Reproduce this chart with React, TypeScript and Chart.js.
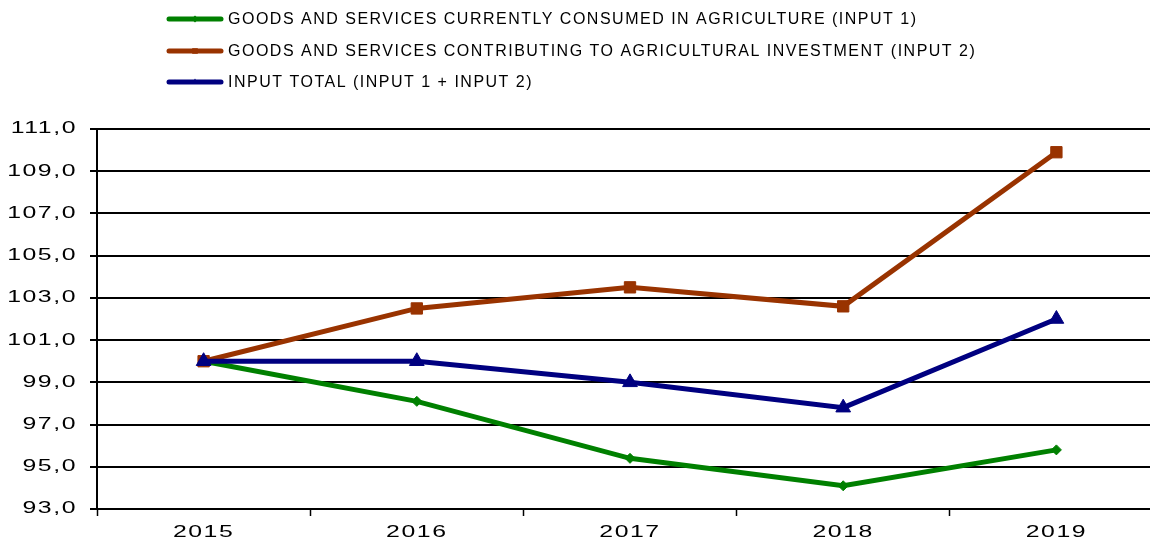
import React, { useEffect, useRef } from "react";
import { Chart, registerables } from "chart.js";

Chart.register(...registerables);

const years = ["2015", "2016", "2017", "2018", "2019"];
const input1 = [100.0, 98.1, 95.4, 94.1, 95.8];
const input2 = [100.0, 102.5, 103.5, 102.6, 109.9];
const inputTotal = [100.0, 100.0, 99.0, 97.8, 102.0];
const seriesLabels = [
  "GOODS AND SERVICES CURRENTLY CONSUMED IN AGRICULTURE (INPUT 1)",
  "GOODS AND SERVICES CONTRIBUTING TO AGRICULTURAL INVESTMENT (INPUT 2)",
  "INPUT TOTAL (INPUT 1 + INPUT 2)",
];
const yMin = 93;
const yMax = 111;
const yStep = 2;

const GREEN = "#008000";
const BROWN = "#993300";
const NAVY = "#000080";
const FONT = "'Liberation Sans', Arial, Helvetica, sans-serif";
const STRETCH = 1.55;

// Draw tick labels at the positions Chart.js computes, but horizontally widened
const stretchPlugin = {
  id: "stretchTicks",
  beforeDraw(chart: any) {
    ["x", "y"].forEach((id) => {
      const scale = chart.scales[id];
      if (!scale || scale._stretched) return;
      scale._stretched = true;
      scale.drawLabels = function (chartArea: any) {
        const ctx: any = this.ctx;
        const items = this.getLabelItems(chartArea);
        for (const item of items) {
          const o = item.options;
          ctx.save();
          ctx.translate(o.translation[0], o.translation[1]);
          ctx.scale(STRETCH, 1);
          ctx.font = item.font.string;
          ctx.fillStyle = o.color;
          ctx.textAlign = o.textAlign;
          ctx.textBaseline = o.textBaseline;
          ctx.letterSpacing = "1px";
          const lines = Array.isArray(item.label) ? item.label : [item.label];
          lines.forEach((l: string, i: number) =>
            ctx.fillText(l, 0, item.textOffset + i * item.font.lineHeight)
          );
          ctx.restore();
        }
      };
    });
  },
};

function drawMarker(ctx: CanvasRenderingContext2D, style: string, x: number, y: number, r: number, color: string) {
  ctx.save();
  ctx.fillStyle = color;
  ctx.beginPath();
  if (style === "rectRot") {
    ctx.moveTo(x, y - r);
    ctx.lineTo(x + r, y);
    ctx.lineTo(x, y + r);
    ctx.lineTo(x - r, y);
  } else if (style === "rect") {
    ctx.rect(x - r * 0.8, y - r * 0.8, r * 1.6, r * 1.6);
  } else {
    ctx.moveTo(x, y - r);
    ctx.lineTo(x + r * 0.9, y + r * 0.5);
    ctx.lineTo(x - r * 0.9, y + r * 0.5);
  }
  ctx.closePath();
  ctx.fill();
  ctx.restore();
}

const legendPlugin = {
  id: "customLegend",
  afterDraw(chart: any) {
    const ctx: CanvasRenderingContext2D = chart.ctx;
    const items = chart.data.datasets;
    ctx.save();
    (ctx as any).letterSpacing = "1.5px";
    ctx.font = `16px ${FONT}`;
    ctx.textBaseline = "middle";
    ctx.textAlign = "left";
    const rows = [19, 51, 82];
    items.forEach((ds: any, i: number) => {
      const y = rows[i];
      ctx.strokeStyle = ds.borderColor;
      ctx.lineWidth = 5;
      ctx.lineCap = "round";
      ctx.beginPath();
      ctx.moveTo(169, y);
      ctx.lineTo(221, y);
      ctx.stroke();
      drawMarker(ctx, ds.pointStyle, 195, y, 3.5, ds.borderColor);
      ctx.fillStyle = "#000";
      ctx.fillText(ds.label, 228, y + 1);
    });
    ctx.restore();
  },
};

export default function App() {
  const canvasRef = useRef<HTMLCanvasElement | null>(null);

  useEffect(() => {
    const canvas = canvasRef.current;
    if (!canvas) return;
    const chart = new Chart(canvas, {
      type: "line",
      data: {
        labels: years,
        datasets: [
          {
            label: seriesLabels[0],
            data: input1,
            borderColor: GREEN,
            backgroundColor: GREEN,
            borderWidth: 5,
            pointStyle: "rectRot",
            pointRadius: 5,
            pointBorderWidth: 1,
            pointBackgroundColor: GREEN,
            pointBorderColor: GREEN,
            order: 2,
          },
          {
            label: seriesLabels[1],
            data: input2,
            borderColor: BROWN,
            backgroundColor: BROWN,
            borderWidth: 5,
            pointStyle: "rect",
            pointRadius: 8,
            pointBorderWidth: 1,
            pointBackgroundColor: BROWN,
            pointBorderColor: BROWN,
            order: 1,
          },
          {
            label: seriesLabels[2],
            data: inputTotal,
            borderColor: NAVY,
            backgroundColor: NAVY,
            borderWidth: 5,
            pointStyle: "triangle",
            pointRadius: 8.5,
            pointBorderWidth: 1,
            pointBackgroundColor: NAVY,
            pointBorderColor: NAVY,
            order: 0,
          },
        ],
      },
      options: {
        responsive: false,
        animation: false,
        devicePixelRatio: 1,
        layout: { padding: { top: 129, right: 12, bottom: 0, left: 0 } },
        plugins: {
          legend: { display: false },
          tooltip: { enabled: false },
        },
        elements: { line: { tension: 0 } },
        scales: {
          x: {
            type: "category",
            offset: true,
            grid: {
              offset: true,
              drawOnChartArea: false,
              drawTicks: true,
              tickLength: 7,
              tickWidth: 1.5,
              tickColor: "#000",
            },
            border: { display: true, color: "#000", width: 2 },
            ticks: {
              color: "#000",
              font: { family: FONT, size: 16 },
              padding: 7,
              maxRotation: 0,
              autoSkip: false,
            },
            afterFit(scale: any) {
              scale.height = 32;
            },
          },
          y: {
            min: yMin,
            max: yMax,
            grid: {
              color: "#000",
              lineWidth: 2,
              drawTicks: true,
              tickLength: 7,
              tickColor: "#000",
            },
            border: { display: true, color: "#000", width: 2 },
            ticks: {
              stepSize: yStep,
              color: "#000",
              font: { family: FONT, size: 16 },
              padding: 13,
              callback: (v: any) => Number(v).toFixed(1).replace(".", ","),
            },
            afterFit(scale: any) {
              scale.width = 97;
            },
          },
        },
      },
      plugins: [stretchPlugin, legendPlugin],
    });
    return () => chart.destroy();
  }, []);

  return (
    <div
      style={{
        position: "fixed",
        left: 0,
        top: 0,
        width: 1150,
        height: 541,
        overflow: "hidden",
        background: "#fff",
      }}
    >
      <canvas ref={canvasRef} width={1175} height={541} style={{ display: "block" }} />
    </div>
  );
}
